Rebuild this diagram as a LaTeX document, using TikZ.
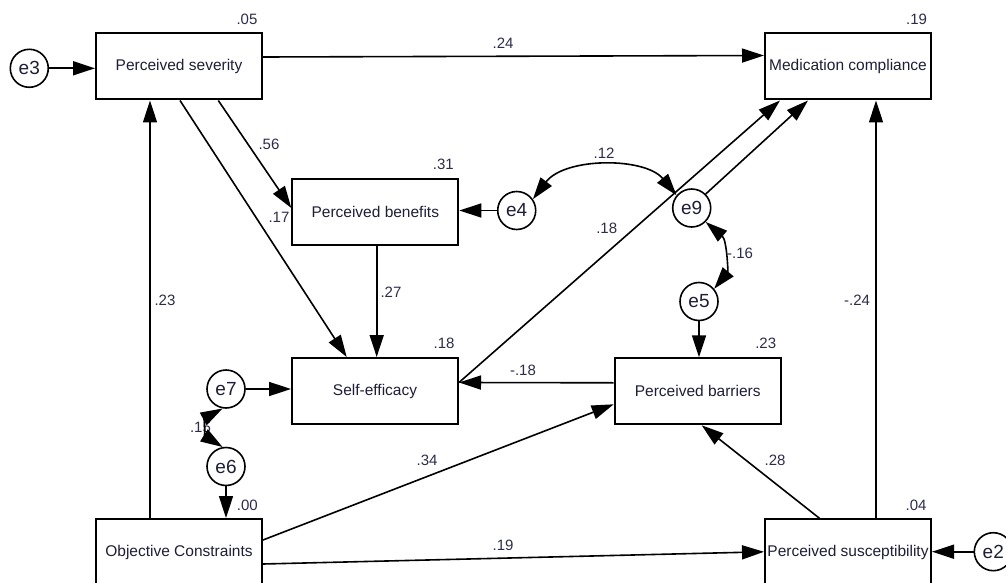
\documentclass[tikz,border=0pt]{standalone}
\usepackage{fontspec}
\setmainfont{Liberation Sans}
\usetikzlibrary{arrows.meta,calc}
\definecolor{txt}{RGB}{30,30,55}
\definecolor{numc}{RGB}{45,45,75}
\begin{document}
\begin{tikzpicture}[x=1pt,y=-1pt,
  box/.style={draw,line width=2pt,minimum width=166pt,minimum height=66pt,inner sep=0pt,font=\fontsize{15.5}{18}\selectfont,text=txt},
  err/.style={draw,circle,line width=1.6pt,minimum size=38pt,inner sep=0pt,font=\fontsize{19}{22}\selectfont,text=txt,fill=white},
  arr/.style={line width=1.6pt,-{Triangle[length=22pt,width=14pt]}},
  darr/.style={line width=1.6pt,{Triangle[length=22pt,width=14pt]}-{Triangle[length=22pt,width=14pt]}},
  num/.style={font=\fontsize{15}{18}\selectfont,text=numc,inner sep=0pt},
]
\useasboundingbox (0,0) rectangle (1006,583);
\clip (0,0) rectangle (1006,583);
\fill[white] (0,0) rectangle (1006,583);

% boxes
\node[box] (sev)  at (179,66.5)    {Perceived severity};
\node[box] (med)  at (848,66.5)    {Medication compliance};
\node[box] (ben)  at (375.3,212)   {Perceived benefits};
\node[box] (self) at (375,391)     {Self-efficacy};
\node[box] (bar)  at (697.7,391.3) {Perceived barriers};
\node[box] (obj)  at (179,552)     {Objective Constraints};
\node[box] (sus)  at (848,552.3)   {Perceived susceptibility};

% error terms
\node[err] (e3) at (29.3,68.3)  {e3};
\node[err] (e4) at (516.7,210.5) {e4};
\node[err] (e9) at (691.7,208)  {e9};
\node[err] (e5) at (699,301.5)  {e5};
\node[err] (e7) at (226,389)    {e7};
\node[err] (e6) at (226,466.5)  {e6};
\node[err] (e2) at (993.3,551.7) {e2};

% labels
\node[num] (l05) at (247,19) {.05};
\node[num] (l19a) at (916.5,19) {.19};
\node[num] (l24) at (503,43) {.24};
\node[num] (l56) at (269,144) {.56};
\node[num] (l17) at (279,217.5) {.17};
\node[num] (l31) at (443.3,164.5) {.31};
\node[num] (l27) at (391,292.5) {.27};
\node[num] (l18a) at (444,343.5) {.18};
\node[num] (l23a) at (165,300) {.23};
\node[num] (l12) at (604,153) {.12};
\node[num] (l18b) at (606.7,228.3) {.18};
\node[num] (l16) at (740,253) {-.16};
\node[num] (l23b) at (765.7,343.5) {.23};
\node[num] (l18c) at (523,370) {-.18};
\node[num] (l34) at (427,460) {.34};
\node[num] (l28) at (775,460) {.28};
\node[num] (l19b) at (503,545) {.19};
\node[num] (l00) at (247.3,505) {.00};
\node[num] (l04) at (916,505) {.04};
\node[num] (l24b) at (857,300) {-.24};
\node[num] (l15) at (200.5,427) {.15};

% connectors
\draw[arr] (e3) -- (e3 -| sev.west);
\draw[arr] ($(sev.east)+(0,-9.5)$) -- ($(med.west)+(0,-11)$);
\draw[arr] ($(sev.south)+(39.3,0)$) -- ($(ben.west)+(0,-4)$);
\draw[arr] ($(sev.south)+(1,0)$) -- ($(self.north)+(-28.3,0)$);
\draw[arr] ($(ben.south)+(1.4,0)$) -- ($(self.north)+(1.7,0)$);
\draw[arr] ($(obj.north)+(-29,0)$) -- ($(sev.south)+(-29,0)$);
\draw[arr] (e4) -- (e4 -| ben.east);
\draw[darr] (e4.35) .. controls (565,157) and (645,157) .. (e9.140);
\draw[darr] (e9.-45) .. controls (727,240) and (728,272) .. (e5.40);
\draw[arr] (e9.45) -- ($(med.south)+(-40,0)$);
\draw[arr] ($(self.east)+(0,-8.5)$) -- ($(med.south)+(-68,0)$);
\draw[arr] (e5) -- (e5 |- bar.north);
\draw[arr] ($(bar.west)+(0,-8.5)$) -- ($(self.east)+(0,-8.5)$);
\draw[arr] ($(obj.east)+(0,-12)$) -- ($(bar.west)+(0,13)$);
\draw[arr] ($(obj.east)+(0,12)$) -- ($(sus.west)+(0,-0.5)$);
\draw[arr] ($(sus.north)+(-28.5,0)$) -- ($(bar.south)+(4,0)$);
\draw[arr] ($(sus.north)+(28,0)$) -- ($(med.south)+(28,0)$);
\draw[arr] (e2) -- (e2 -| sus.east);
\draw[arr] (e7) -- (e7 -| self.west);
\draw[darr] (e7.-100) .. controls (205,418) and (205,436) .. (e6.100);
\draw[arr] (e6) -- (e6 |- obj.north);
\end{tikzpicture}
\end{document}
